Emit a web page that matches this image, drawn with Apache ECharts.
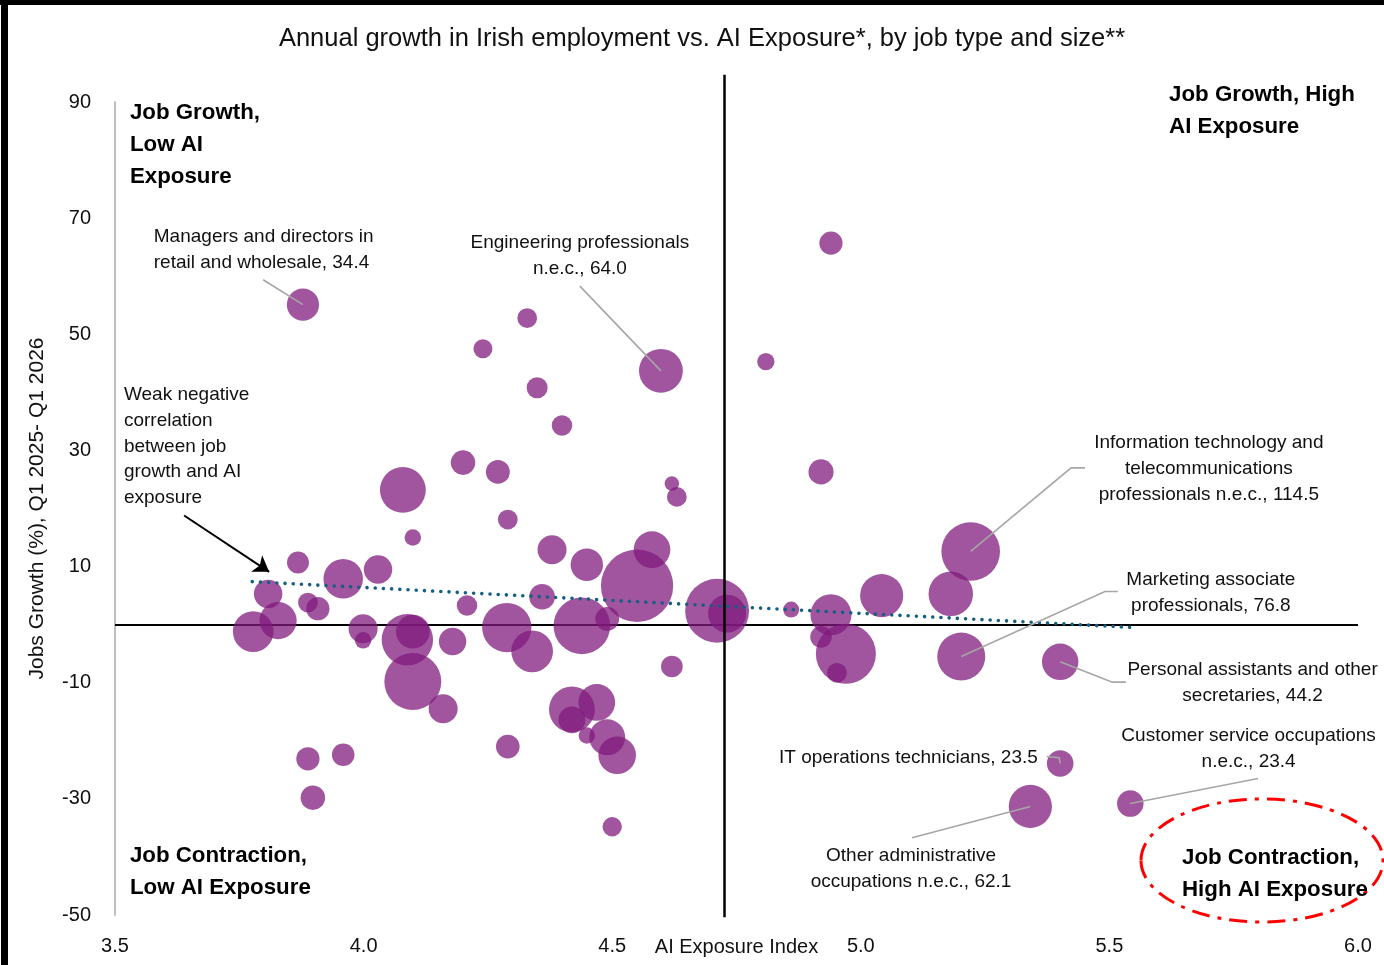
<!DOCTYPE html>
<html><head><meta charset="utf-8">
<script src="https://cdn.jsdelivr.net/npm/echarts@6/dist/echarts.min.js"></script>
<style>html,body{margin:0;padding:0;background:#fff}#c{width:1384px;height:965px}</style>
</head><body><div id="c"></div>
<script>
// ---- data ----
const exposure = [3.878,4.329,4.240,4.598,4.349,4.399,4.200,4.270,4.079,4.620,
  4.630,4.290,4.099,4.379,4.449,4.580,4.550,3.868,3.959,4.029,
  3.808,3.888,3.908,4.208,4.359,4.490,3.778,3.828,3.999,3.999,
  4.088,4.099,4.099,4.179,4.160,4.288,4.339,4.439,4.419,4.469,
  4.419,4.449,4.490,4.510,4.620,4.290,3.888,3.959,3.898,4.500,
  4.711,4.731,4.940,4.809,4.920,5.221,5.042,5.181,4.940,4.860,
  4.920,4.970,4.952,5.202,5.401,5.401,5.341,5.542];
const growth = [55.1,52.8,47.5,43.7,40.8,34.3,27.9,26.3,23.2,24.3,
  22.0,18.1,15.0,12.9,10.3,12.9,6.7,10.7,7.9,9.5,
  5.3,3.8,2.75,3.3,4.8,1.0,-1.2,0.7,-0.7,-2.7,
  -2.6,-1.2,-9.8,-2.9,-14.5,-0.5,-4.6,-0.2,-14.6,-13.4,
  -16.4,-19.1,-19.4,-22.5,-7.2,-21.0,-23.1,-22.4,-29.8,-34.8,
  2.4,1.9,65.7,45.3,26.3,12.6,5.0,5.3,1.7,2.6,
  -2.1,-5.0,-8.3,-5.5,-6.4,-23.9,-31.3,-30.8];
const employment = [34.4,13,12,64.0,14.7,14,20,19,70,7,
  13,13,9,28,35,45,174,16,52,27,
  27,13,18,14,22,19,55,46,28,9,
  88,38,108,25,28,81,58,107,70,45,
  24,9,43,47,15.6,18.6,18,17,20,12.5,
  136,48,18,10,21,114.5,62,66,56,8.5,
  15.5,120,13,76.8,44.2,23.5,62.1,23.4];
const trendX = [3.776, 5.541];
const trendY = [7.4, -0.46];
const xTicks = [3.5, 4.0, 4.5, 5.0, 5.5, 6.0];
const yTicks = [-50, -30, -10, 10, 30, 50, 70, 90];
const meanExposure = 4.725;

// ---- annotations ----
const callouts = [
  {i:0,  text:'Managers and directors in\nretail and wholesale, 34.4', at:[3.578,64.5], align:'left', path:[[3.798,59.4]]},
  {i:3,  text:'Engineering professionals\nn.e.c., 64.0', at:[4.435,63.5], align:'center', path:[[4.435,58.3]]},
  {i:55, text:'Information technology and\ntelecommunications\nprofessionals n.e.c., 114.5', at:[5.700,26.85], align:'center', path:[[5.423,27.0],[5.451,27.0]]},
  {i:63, text:'Marketing associate\nprofessionals, 76.8', at:[5.704,5.5], align:'center', path:[[5.491,5.7],[5.517,5.7]]},
  {i:64, text:'Personal assistants and other\nsecretaries, 44.2', at:[5.788,-10.0], align:'center', path:[[5.506,-9.9],[5.533,-9.9]]},
  {i:65, text:'IT operations technicians, 23.5', at:[5.356,-22.9], align:'right', path:[[5.399,-22.9],[5.374,-22.7]]},
  {i:66, text:'Other administrative\noccupations n.e.c., 62.1', at:[5.101,-42.0], align:'center', path:[[5.103,-36.7]]},
  {i:67, text:'Customer service occupations\nn.e.c., 23.4', at:[5.780,-21.4], align:'center', path:[[5.799,-26.5]]}
];
const quadrants = [
  {text:'Job Growth,\nLow AI\nExposure', at:[3.530,82.65]},
  {text:'Job Growth, High\nAI Exposure', at:[5.620,88.45]},
  {text:'Job Contraction,\nLow AI Exposure', at:[3.530,-42.55]},
  {text:'Job Contraction,\nHigh AI Exposure', at:[5.646,-42.85]}
];
const noteText = 'Weak negative\ncorrelation\nbetween job\ngrowth and AI\nexposure';
const noteAt = [3.518, 30.7];
const arrowFrom = [3.639, 18.8], arrowTo = [3.810, 9.1];

const FONT = '"Liberation Sans", Arial, sans-serif';
const bubbleData = exposure.map((x, k) => [x, growth[k], employment[k]]);
const leaderData = callouts.map(c => ({coords:[[exposure[c.i], growth[c.i]]].concat(c.path)}));

const chart = echarts.init(document.getElementById('c'), null, {renderer:'canvas'});
chart.setOption({
  animation:false,
  backgroundColor:'#fff',
  grid:{left:115, right:26, top:102, bottom:50, containLabel:false, outerBoundsMode:'none'},
  xAxis:{type:'value', min:xTicks[0], max:xTicks[xTicks.length-1], interval:0.5,
    axisLine:{show:false}, axisTick:{show:false}, splitLine:{show:false},
    axisLabel:{margin:21, color:'#111', fontSize:20, fontFamily:FONT, formatter:v => v.toFixed(1)},
    name:'AI Exposure Index', nameLocation:'middle', nameGap:22, nameMoveOverlap:false,
    nameTextStyle:{color:'#111', fontSize:20, fontFamily:FONT}},
  yAxis:{type:'value', min:yTicks[0], max:yTicks[yTicks.length-1], interval:10,
    axisLine:{show:true, lineStyle:{color:'#BFBFBF', width:2}}, axisTick:{show:false}, splitLine:{show:false},
    axisLabel:{margin:24, color:'#111', fontSize:20, fontFamily:FONT,
      formatter:v => yTicks.indexOf(Math.round(v)) >= 0 ? String(Math.round(v)) : ''},
    name:'Jobs Growth (%), Q1 2025- Q1 2026', nameLocation:'middle', nameRotate:90, nameGap:67, nameMoveOverlap:false,
    nameTextStyle:{color:'#111', fontSize:21, fontFamily:FONT}},
  series:[
    {type:'lines', coordinateSystem:'cartesian2d', z:1, silent:true, clip:false,
      lineStyle:{color:'#000', width:2, opacity:1},
      data:[{coords:[[xTicks[0],0],[xTicks[xTicks.length-1],0]]}]},
    {type:'scatter', z:2, data:bubbleData, clip:false,
      symbolSize: v => 5.48*Math.sqrt(v[2]),
      itemStyle:{color:'rgb(127,26,124)', opacity:0.74, borderWidth:0}},
    {type:'line', z:3, data:trendX.map((x,k)=>[x,trendY[k]]), symbol:'none', silent:true,
      lineStyle:{color:'#156082', width:3.6, type:[0.01,8.2], cap:'round'}},
    {type:'lines', coordinateSystem:'cartesian2d', z:4, silent:true, clip:false,
      lineStyle:{color:'#000', width:2.5, opacity:1},
      data:[{coords:[[meanExposure,94.7],[meanExposure,-50.4]]}]},
    {type:'lines', coordinateSystem:'cartesian2d', polyline:true, z:5, silent:true, clip:false,
      lineStyle:{color:'#A6A6A6', width:1.6, opacity:1}, data:leaderData},
    {type:'lines', coordinateSystem:'cartesian2d', z:6, silent:true, clip:false,
      symbol:['none','arrow'], symbolSize:15,
      lineStyle:{color:'#000', width:2, opacity:1},
      data:[{coords:[arrowFrom, arrowTo]}]}
  ]
});

// annotation texts placed through the chart's own scales
const px = p => chart.convertToPixel({gridIndex:0}, p);
const gfx = [
  {type:'text', x:702, y:39, z:10, style:{text:'Annual growth in Irish employment vs. AI Exposure*, by job type and size**',
    fontSize:25.5, fontFamily:FONT, fill:'#111', align:'center', verticalAlign:'middle'}},
  {type:'rect', shape:{x:0, y:0, width:1384, height:5}, style:{fill:'#000'}, z:10},
  {type:'rect', shape:{x:1, y:0, width:7, height:965}, style:{fill:'#000'}, z:10},
  {type:'ellipse', shape:{cx:1262, cy:860.5, rx:121, ry:61.5}, z:10,
    style:{fill:null, stroke:'#FF0000', lineWidth:3, lineDash:[18,8,4,8]}}
];
callouts.forEach(c => { const p = px(c.at); gfx.push({type:'text', z:20, x:p[0], y:p[1],
  style:{text:c.text, fontSize:19, lineHeight:26, fontFamily:FONT, fill:'#111', align:c.align, verticalAlign:'middle'}}); });
quadrants.forEach(q => { const p = px(q.at); gfx.push({type:'text', z:20, x:p[0], y:p[1],
  style:{text:q.text, fontSize:22.3, fontWeight:'bold', lineHeight:32, fontFamily:FONT, fill:'#000', align:'left', verticalAlign:'middle'}}); });
{ const p = px(noteAt); gfx.push({type:'text', z:20, x:p[0], y:p[1],
  style:{text:noteText, fontSize:19, lineHeight:25.8, fontFamily:FONT, fill:'#111', align:'left', verticalAlign:'middle'}}); }
chart.setOption({graphic: gfx});
</script></body></html>
